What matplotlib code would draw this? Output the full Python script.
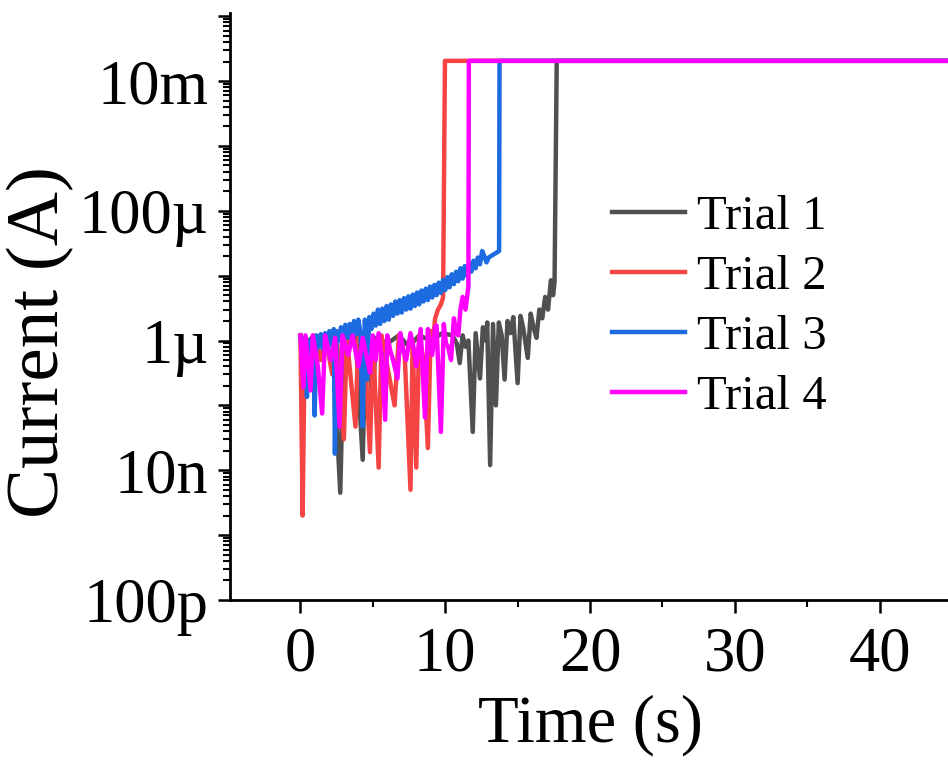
import numpy as np
import matplotlib
matplotlib.use("Agg")
import matplotlib.pyplot as plt
from matplotlib.ticker import LogLocator, FuncFormatter, MultipleLocator, NullFormatter

plt.rcParams.update({"font.family": ["Liberation Serif", "DejaVu Serif"]})

# compliance level reached after breakdown
I_CC = 2.05e-2

# Trial 1 (grey)
t1 = [0.0, 0.3, 0.8, 1.5, 2.2, 2.75, 3.0, 3.8, 4.3, 4.5, 5.0, 5.2, 6.0, 6.8, 7.5, 8.2, 9.0, 9.8,
      10.5, 10.8, 11.0, 11.2, 11.4, 11.6, 11.9, 12.1, 12.4, 12.6, 12.8, 12.9, 13.1, 13.3, 13.5, 13.7,
      13.9, 14.1, 14.3, 14.5, 14.7, 15.0, 15.2, 15.4, 15.7, 15.9, 16.1, 16.3, 16.5, 16.7, 16.9,
      17.1, 17.3, 17.45, 17.55, 17.7, 45.0]
i1 = [1.2e-6, 9e-7, 1.1e-6, 8e-7, 1.1e-6, 4.5e-9, 1.0e-6, 1.2e-6, 1.45e-8, 1.1e-6, 1.2e-7, 1.1e-6,
      9e-7, 1.2e-6, 8e-7, 1.2e-6, 1.0e-6, 1.3e-6,
      1.2e-6, 9e-7, 4.5e-7, 1.2e-6, 8e-7, 1.0e-6, 3.9e-8, 1.3e-6, 2.6e-7, 1.6e-6, 1.0e-6, 1.9e-6,
      1.2e-8, 1.8e-6, 1.0e-7, 1.9e-6, 1.2e-6, 2.5e-7, 2.0e-6, 1.3e-6, 2.3e-6, 2.2e-7, 2.4e-6, 1.5e-6,
      5.4e-7, 2.6e-6, 1.6e-6, 1.1e-6, 3.0e-6, 2.2e-6, 4.7e-6, 3.0e-6, 8.5e-6, 5.0e-6, 8.0e-6, I_CC, I_CC]

# Trial 2 (red)
t2 = [0.0, 0.15, 0.3, 0.7, 0.9, 1.4, 1.7, 2.2, 2.5, 3.0, 3.2, 3.8, 4.0, 4.5, 4.8, 5.0, 5.4, 5.6,
      6.1, 6.5, 6.8, 7.2, 7.6, 7.75, 8.0, 8.2, 8.5, 8.8, 9.0, 9.15, 9.3, 9.5, 9.7, 9.85, 9.98, 45.0]
i2 = [1.2e-6, 2e-9, 1.1e-6, 3e-7, 1.2e-6, 5e-7, 1.2e-6, 3e-7, 1.2e-6, 3.0e-8, 1.1e-6, 4.7e-8, 1.2e-6,
      4e-7, 1.9e-8, 1.1e-6, 1.1e-8, 1.2e-6, 3e-7, 1.0e-7, 1.2e-6, 6e-7, 5e-9, 1.0e-6, 1.1e-8, 1.2e-6,
      5e-7, 2.2e-8, 1.4e-6, 9e-7, 2.2e-6, 3.0e-6, 3.6e-6, 4.6e-6, I_CC, I_CC]

# Trial 3 (blue)
t3 = [0.0, 0.15, 0.3, 0.45, 0.6, 0.75, 0.9, 0.98, 1.1, 1.25, 1.4, 1.55, 1.7, 1.85, 2.0, 2.15, 2.3,
      2.38, 2.5, 2.65, 2.8, 2.95, 3.1, 3.25, 3.4, 3.55, 3.7, 3.85, 4.0, 4.15, 4.3, 4.45, 4.6, 4.75,
      4.9, 5.05, 5.2, 5.35, 5.5, 5.65, 5.8, 5.95, 6.1, 6.25, 6.4, 6.55, 6.7, 6.85, 7.0, 7.15, 7.3,
      7.45, 7.6, 7.75, 7.9, 8.05, 8.2, 8.35, 8.5, 8.65, 8.8, 8.95, 9.1, 9.25, 9.4, 9.55, 9.7, 9.85,
      10.0, 10.15, 10.3, 10.45, 10.6, 10.75, 10.9, 11.05, 11.2, 11.35, 11.5, 11.65, 11.8, 11.95,
      12.1, 12.25, 12.4, 12.55, 12.7, 12.85, 13.0, 13.15, 13.3, 13.45, 13.6, 13.72, 13.75, 45.0]
i3 = [1.1e-6, 8e-7, 1.1e-6, 1.35e-7, 1.0e-6, 7e-7, 1.1e-6, 7e-8, 1.2e-6, 8e-7, 1.25e-6, 7.5e-7,
      1.3e-6, 9e-7, 1.4e-6, 8.5e-7, 1.5e-6, 1.8e-8, 1.4e-6, 1.0e-6, 1.6e-6, 1.0e-6, 1.75e-6, 1.1e-6,
      1.8e-6, 1.2e-6, 2.0e-6, 1.25e-6, 2.1e-6, 1.3e-6, 4.7e-8, 2.1e-6, 2.5e-7, 2.3e-6, 1.5e-6, 2.6e-6,
      1.7e-6, 3.0e-6, 1.8e-6, 3.1e-6, 2.0e-6, 3.4e-6, 2.1e-6, 3.6e-6, 2.4e-6, 4.0e-6, 2.6e-6, 4.2e-6,
      2.7e-6, 4.5e-6, 3.0e-6, 4.8e-6, 3.1e-6, 5.1e-6, 3.4e-6, 5.5e-6, 3.6e-6, 5.9e-6, 4.0e-6, 6.3e-6,
      4.2e-6, 6.8e-6, 4.6e-6, 7.2e-6, 5.0e-6, 7.8e-6, 5.4e-6, 8.6e-6, 6.0e-6, 9.5e-6, 6.6e-6, 1.05e-5,
      7.4e-6, 1.15e-5, 8.2e-6, 1.3e-5, 9.0e-6, 1.4e-5, 1.0e-5, 1.55e-5, 1.15e-5, 1.7e-5, 1.3e-5,
      1.9e-5, 1.5e-5, 2.4e-5, 2.0e-5, 1.6e-5, 1.9e-5, 2.0e-5, 2.1e-5, 2.2e-5, 2.3e-5, 2.4e-5, I_CC, I_CC]

# Trial 4 (magenta)
t4 = [0.0, 0.2, 0.35, 0.7, 0.85, 1.2, 1.5, 1.7, 2.1, 2.4, 2.7, 2.9, 3.3, 3.6, 4.0, 4.3, 4.8, 5.0,
      5.2, 5.4, 5.6, 5.85, 6.0, 6.2, 6.4, 6.7, 6.9, 7.1, 7.3, 7.6, 7.8, 8.0, 8.3, 8.6, 8.8, 9.1,
      9.3, 9.4, 9.7, 9.9, 10.05, 10.2, 10.4, 10.6, 10.75, 10.9, 11.05, 11.2, 11.4, 11.6, 11.63, 45.0]
i4 = [1.2e-6, 1.9e-7, 1.2e-6, 1.7e-7, 1.2e-6, 4e-7, 7.5e-8, 1.2e-6, 5e-7, 1.1e-6, 4.7e-8, 1.2e-6,
      6e-7, 1.2e-6, 4e-7, 1.1e-6, 3.2e-7, 1.2e-6, 5e-7, 1.3e-6, 6e-7, 6e-8, 1.2e-6, 7e-7, 5e-7, 2.6e-7,
      1.3e-6, 7e-7, 5e-7, 1.3e-6, 8e-7, 4e-7, 1.5e-6, 6.5e-8, 1.5e-6, 6e-7, 1.6e-6, 1.7e-6, 3.9e-8,
      1.8e-6, 9e-7, 8e-7, 5e-7, 2.2e-6, 1.3e-6, 1.2e-6, 3.0e-6, 4.7e-6, 3.0e-6, 6.8e-6, I_CC, I_CC]

labels = ["Trial 1", "Trial 2", "Trial 3", "Trial 4"]
colors = ["#505050", "#F54444", "#1C6BE0", "#FF00FF"]
ytick_names = {-2: "10m", -4: "100\u00b5", -6: "1\u00b5", -8: "10n", -10: "100p"}

fig = plt.figure(figsize=(9.48, 7.65), dpi=100)
ax = fig.add_axes([229.5 / 948, 165 / 765, (952 - 229.5) / 948, 587 / 765])

for t, cur, lab, c in zip([t1, t2, t3, t4], [i1, i2, i3, i4], labels, colors):
    ax.plot(t, cur, color=c, lw=3.2, label=lab, solid_joinstyle="round")

ax.set_yscale("log")
ax.set_xlim(-4.9, 45)
ax.set_ylim(1e-10, 1.12e-1)
ax.spines["top"].set_visible(False)
ax.spines["right"].set_visible(False)
for s in ("left", "bottom"):
    ax.spines[s].set_linewidth(2.0)

ax.yaxis.set_major_locator(LogLocator(base=10, numticks=30))
ax.yaxis.set_minor_locator(LogLocator(base=10, subs=np.arange(2, 10), numticks=30))
ax.yaxis.set_major_formatter(FuncFormatter(lambda v, p: ytick_names.get(int(round(np.log10(v))), "")))
ax.yaxis.set_minor_formatter(NullFormatter())
ax.xaxis.set_major_locator(MultipleLocator(10))
ax.xaxis.set_minor_locator(MultipleLocator(5))

ax.tick_params(which="major", length=9, width=1.8, labelsize=45, pad=6, direction="out")
ax.tick_params(which="minor", length=5, width=1.5, direction="out")
ax.tick_params(axis="x", which="major", pad=10)

ax.set_xlabel("Time (s)", fontsize=48, labelpad=7)
ax.set_ylabel("Current (A)", fontsize=54)
ax.yaxis.set_label_coords(-0.215, 0.44)

fig.legend(loc="center left", bbox_to_anchor=(612 / 948, 1 - 307 / 765), frameon=False,
           fontsize=35, handlelength=1.5, handletextpad=0.25, labelspacing=0.33,
           borderpad=0, borderaxespad=0)

fig.savefig("out.png", dpi=100)
